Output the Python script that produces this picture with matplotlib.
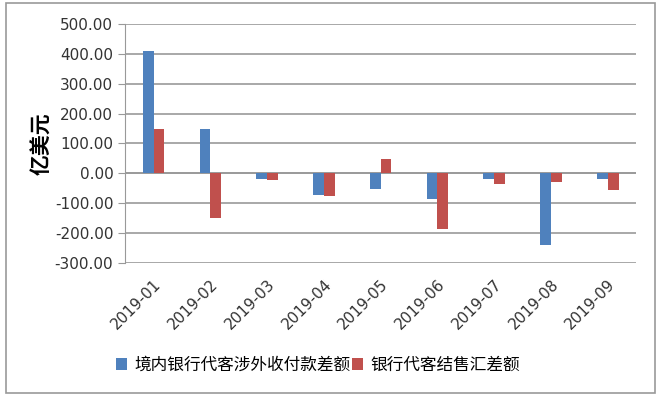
import matplotlib.pyplot as plt
import numpy as np
from matplotlib.patches import Rectangle

months = ['2019-01', '2019-02', '2019-03', '2019-04', '2019-05',
          '2019-06', '2019-07', '2019-08', '2019-09']
# 境内银行代客涉外收付款差额
shewai = [411, 150, -20, -73, -54, -87, -20, -241, -20]
# 银行代客结售汇差额
jieshouhui = [150, -150, -24, -77, 47, -187, -37, -30, -57]

plt.rcParams['font.family'] = ['DejaVu Sans', 'Noto Sans CJK SC']

fig = plt.figure(figsize=(6.62, 3.97), dpi=100)
ax = fig.add_axes([0.189, 0.3375, 0.772, 0.6025])

x = np.arange(len(months))
w = 0.19
ax.bar(x - w / 2, shewai, w, color='#4F81BD', label='境内银行代客涉外收付款差额', zorder=3)
ax.bar(x + w / 2, jieshouhui, w, color='#C0504D', label='银行代客结售汇差额', zorder=3)

ax.set_xlim(-0.5, len(months) - 0.5)
ax.set_ylim(-301, 501)
yt = np.arange(-300, 501, 100)
ax.set_yticks(yt)
ax.set_yticklabels(['%.2f' % v for v in yt], fontsize=11, color='#333333')
ax.yaxis.grid(True, color='#999999', linewidth=1.2, zorder=0)
ax.axhline(0, color='#999999', linewidth=1.2, zorder=1)

ax.set_xticks(x)
ax.set_xticklabels(months, rotation=45, ha='right', rotation_mode='anchor', fontsize=11, color='#333333')
ax.tick_params(axis='x', length=0, pad=10)
ax.tick_params(axis='y', length=5, color='#999999')

for s in ['top', 'right', 'bottom']:
    ax.spines[s].set_visible(False)
ax.spines['left'].set_color('#999999')

ax.set_ylabel('亿美元', fontsize=15, fontweight='bold', family=['Noto Sans CJK SC'], labelpad=2)

fig.legend(loc='lower left', bbox_to_anchor=(0.152, 0.02), ncol=2, frameon=False,
           prop={'family': ['Noto Sans CJK SC'], 'size': 12}, handlelength=0.7, handleheight=0.7,
           handletextpad=0.4, columnspacing=0.1)

fig.patches.append(Rectangle((0.009, 0.01), 0.981, 0.982, transform=fig.transFigure,
                             fill=False, edgecolor='#999999', linewidth=1.2))

fig.savefig('out.png', dpi=100)
